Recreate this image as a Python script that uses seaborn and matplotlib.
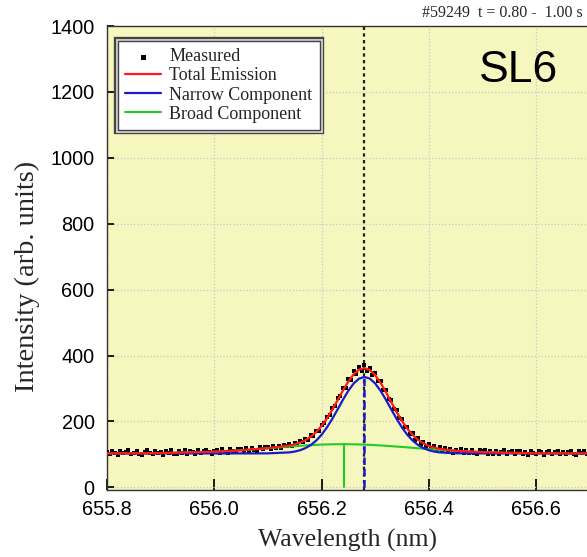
import matplotlib
matplotlib.use("Agg")
import matplotlib.pyplot as plt
import matplotlib.patheffects as pe
import seaborn as sns
import numpy as np
import pandas as pd

sns.set_theme(style="ticks")
plt.rcParams["font.family"] = ["Liberation Sans", "DejaVu Sans"]

# fitted curves (nm, arb. units)
wl_fit = [655.80, 655.90, 656.00, 656.05, 656.10, 656.14, 656.15, 656.16, 656.17, 656.18,
          656.19, 656.20, 656.21, 656.22, 656.23, 656.24, 656.25, 656.26, 656.27, 656.28,
          656.29, 656.30, 656.31, 656.32, 656.33, 656.34, 656.35, 656.36, 656.37, 656.38,
          656.39, 656.40, 656.41, 656.42, 656.45, 656.50, 656.55, 656.60, 656.70]
total = [103.1, 103.9, 108.1, 112.6, 118.9, 126.9, 130.6, 135.9, 143.3, 153.7,
         167.8, 186.2, 209.0, 235.5, 264.5, 294.0, 321.1, 343.1, 357.3, 361.7,
         356.0, 340.6, 317.4, 289.2, 258.6, 228.6, 201.3, 177.8, 158.8, 144.2,
         133.5, 125.8, 120.5, 116.8, 111.0, 106.8, 104.6, 103.6, 103.0]
narrow = [103.0, 103.0, 103.0, 103.0, 103.2, 106.1, 108.6, 112.7, 119.1, 128.5,
          141.8, 159.5, 181.7, 207.8, 236.6, 266.0, 293.2, 315.4, 330.0, 335.0,
          330.0, 315.4, 293.2, 266.0, 236.6, 207.8, 181.7, 159.5, 141.8, 128.5,
          119.1, 112.7, 108.6, 106.1, 103.4, 103.0, 103.0, 103.0, 103.0]
broad = [103.1, 103.9, 108.1, 112.6, 118.7, 123.8, 125.0, 126.2, 127.2, 128.2,
         129.0, 129.7, 130.3, 130.7, 130.9, 131.0, 130.9, 130.7, 130.3, 129.7,
         129.0, 128.2, 127.2, 126.2, 125.0, 123.8, 122.6, 121.3, 120.0, 118.7,
         117.4, 116.1, 114.9, 113.7, 110.6, 106.8, 104.6, 103.6, 103.0]

# measured spectrum, 0.005 nm steps from 655.80 to 656.70
measured = [108, 101, 110, 104, 99, 109, 103, 107, 112, 100,
            105, 111, 102, 98, 107, 113, 104, 100, 109, 103,
            107, 99, 111, 104, 112, 102, 100, 109, 105, 113,
            102, 109, 107, 100, 112, 104, 110, 114, 106, 101,
            110, 113, 104, 116, 108, 105, 117, 111, 106, 115,
            116, 108, 119, 111, 120, 114, 109, 122, 115, 123,
            121, 116, 124, 119, 127, 120, 129, 124, 131, 126,
            135, 130, 141, 137, 148, 143, 158, 156, 172, 171,
            189, 195, 213, 219, 240, 246, 270, 276, 300, 303,
            329, 326, 352, 343, 364, 354, 372, 352, 362, 340,
            347, 322, 324, 296, 296, 268, 265, 237, 234, 209,
            207, 183, 184, 162, 165, 145, 150, 133, 138, 124,
            131, 118, 126, 113, 122, 109, 118, 107, 116, 105,
            114, 106, 115, 104, 113, 103, 112, 105, 102, 112,
            109, 112, 101, 110, 102, 111, 100, 108, 112, 101,
            107, 110, 100, 109, 111, 101, 108, 99, 110, 104,
            102, 110, 106, 99, 108, 111, 100, 107, 110, 101,
            108, 100, 106, 111, 102, 99, 109, 103, 110, 100,
            106]
wl_meas = np.linspace(655.80, 656.70, len(measured))

narrow_center = 656.28
broad_center = 656.241
narrow_peak = 335.0
broad_peak = 131.0

df_fit = pd.DataFrame({"wl": wl_fit, "total": total, "narrow": narrow, "broad": broad})
df_meas = pd.DataFrame({"wl": wl_meas, "I": measured})

fig = plt.figure(figsize=(5.87, 5.57), dpi=100)
ax = fig.add_axes([0.1823, 0.1203, 0.8177, 0.833])
ax.set_facecolor("#f6f6bf")

ax.axvline(narrow_center, color="#222222", ls=(0, (1.5, 1.5)), lw=1.6, zorder=2)
ax.plot([narrow_center, narrow_center], [0, narrow_peak], color="#1a1acc",
        ls=(0, (3, 1.5)), lw=1.8, zorder=3)
ax.plot([broad_center, broad_center], [0, broad_peak], color="#22cc22", lw=1.5, zorder=3)

sns.scatterplot(data=df_meas, x="wl", y="I", ax=ax, color="black", marker="s",
                s=9, linewidth=0, label="Measured", zorder=4)
sns.lineplot(data=df_fit, x="wl", y="broad", ax=ax, color="#22cc22", lw=1.5,
             label="Broad Component", zorder=5)
sns.lineplot(data=df_fit, x="wl", y="narrow", ax=ax, color="#1a1acc", lw=1.6,
             label="Narrow Component", zorder=5)
sns.lineplot(data=df_fit, x="wl", y="total", ax=ax, color="#ff1a1a", lw=1.6,
             label="Total Emission", zorder=6)

ax.set_xlim(655.8, 656.695)
ax.set_ylim(-8, 1400)
ax.set_xticks([655.8, 656.0, 656.2, 656.4, 656.6])
ax.set_xticklabels(["655.8", "656.0", "656.2", "656.4", "656.6"])
ax.set_yticks(range(0, 1401, 200))
ax.tick_params(axis="both", direction="in", labelsize=14.3, colors="black")
ax.tick_params(axis="x", length=8, pad=7)
ax.tick_params(axis="y", length=5, pad=9)
ax.grid(True, color="#c8c8c8", ls=":", lw=0.9)
ax.set_axisbelow(True)
for s in ["left", "bottom", "top"]:
    ax.spines[s].set_color("#333333")
    ax.spines[s].set_linewidth(1.0)
ax.spines["right"].set_visible(False)

ax.set_xlabel("Wavelength (nm)", fontsize=18.5, family="Liberation Serif", labelpad=7)
ax.set_ylabel("Intensity (arb. units)", fontsize=20.5, family="Liberation Serif")
ax.yaxis.set_label_coords(-0.14, 0.461)

handles, labels = ax.get_legend_handles_labels()
order = ["Measured", "Total Emission", "Narrow Component", "Broad Component"]
hmap = dict(zip(labels, handles))
leg = ax.legend([hmap[k] for k in order], order, loc="upper left",
                bbox_to_anchor=(0.004, 0.987), prop={"family": "Liberation Serif", "size": 13},
                frameon=True, fancybox=False, handlelength=2.0, handletextpad=0.45,
                borderpad=0.4, labelspacing=0.12, markerscale=1.2)
frame = leg.get_frame()
frame.set_edgecolor("#444444")
frame.set_linewidth(1.0)
frame.set_facecolor("white")
frame.set_alpha(1)
frame.set_path_effects([pe.Stroke(linewidth=6, foreground="#444444"),
                        pe.Stroke(linewidth=3.5, foreground="#d0d0d0"),
                        pe.Normal()])

fig.text(0.993, 0.962, "#59249  t = 0.80 -  1.00 s", ha="right", va="bottom",
         fontsize=11.5, family="Liberation Serif")
ax.text(0.939, 0.905, "SL6", transform=ax.transAxes, ha="right", va="center",
        fontsize=32, color="black")

fig.savefig("out.png", dpi=100)
